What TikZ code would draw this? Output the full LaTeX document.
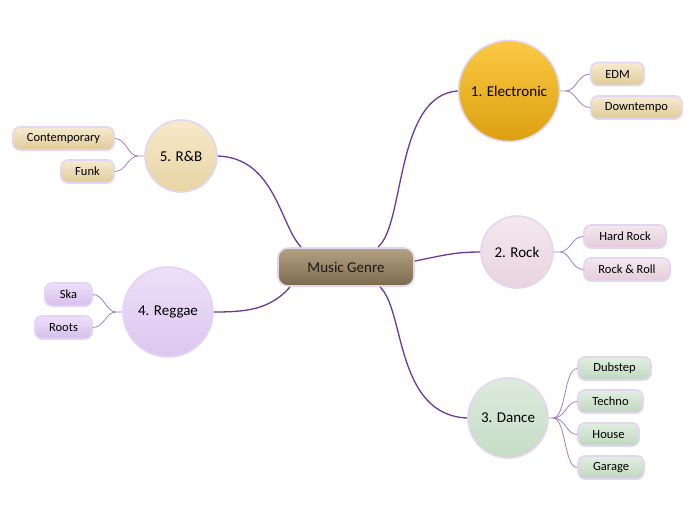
\documentclass[tikz,border=0pt]{standalone}
\usepackage{fontspec}
\setmainfont{Carlito}
\begin{document}
\begin{tikzpicture}[x=1pt,y=-1pt,
  bord/.style={draw=bordc, line width=1.6pt},
  central/.style={bord, rounded corners=10pt, minimum width=136pt, minimum height=38pt, top color=cenT, bottom color=cenB, font=\fontsize{15}{17}\selectfont, text=black!90},
  topic/.style={bord, circle, inner sep=0pt, font=\fontsize{15}{17}\selectfont, text=black},
  leaf/.style={bord, rounded corners=7pt, minimum height=23pt, inner xsep=0pt, font=\fontsize{12.5}{14}\selectfont, text=black},
  mainl/.style={draw=mainc, line width=1.3pt},
  leafl/.style={draw=leafc, line width=0.8pt}
]
\definecolor{bordc}{HTML}{E2D6F2}
\definecolor{cenT}{HTML}{B2A282}
\definecolor{cenB}{HTML}{7C6A4C}
\definecolor{goldT}{HTML}{FBC945}
\definecolor{goldB}{HTML}{DBA00F}
\definecolor{rockT}{HTML}{F5E8EE}
\definecolor{rockB}{HTML}{E8D4DE}
\definecolor{danT}{HTML}{DDEBDD}
\definecolor{danB}{HTML}{C6DCC6}
\definecolor{regT}{HTML}{EEDFFA}
\definecolor{regB}{HTML}{DCC6F0}
\definecolor{rnbT}{HTML}{F7EACB}
\definecolor{rnbB}{HTML}{E8D3A4}
\definecolor{lbeT}{HTML}{F6EBD2}
\definecolor{lbeB}{HTML}{E0CA96}
\definecolor{lroT}{HTML}{F5E8EE}
\definecolor{lroB}{HTML}{E3CCD8}
\definecolor{ldaT}{HTML}{E2EFE2}
\definecolor{ldaB}{HTML}{BFD6BF}
\definecolor{lreT}{HTML}{EEDFFA}
\definecolor{lreB}{HTML}{D6BEEC}
\definecolor{mainc}{HTML}{6B3A96}
\definecolor{leafc}{HTML}{A27EC4}
\useasboundingbox (0,0) rectangle (696,520);
\fill[white] (0,0) rectangle (696,520);

\node[central] (c) at (346,267) {Music Genre};

\node[topic, minimum size=101pt, top color=goldT, bottom color=goldB] (e) at (509,91) {1. Electronic};
\node[topic, minimum size=72pt, top color=rockT, bottom color=rockB] (r) at (517,252) {2. Rock};
\node[topic, minimum size=80pt, top color=danT, bottom color=danB] (d) at (508,418) {3. Dance};
\node[topic, minimum size=90pt, top color=regT, bottom color=regB] (g) at (168,312) {4. Reggae};
\node[topic, minimum size=72pt, top color=rnbT, bottom color=rnbB] (b) at (181,156) {5. R\&B};

\node[leaf, minimum width=53pt, top color=lbeT, bottom color=lbeB] (edm) at (617.5,74) {EDM};
\node[leaf, minimum width=91pt, top color=lbeT, bottom color=lbeB] (dtm) at (636.5,107.5) {Downtempo};
\node[leaf, minimum width=82pt, top color=lroT, bottom color=lroB] (hr) at (625,236.5) {Hard Rock};
\node[leaf, minimum width=86pt, top color=lroT, bottom color=lroB] (rr) at (627,269.5) {Rock \& Roll};
\node[leaf, minimum width=73pt, top color=ldaT, bottom color=ldaB] (dub) at (614.5,368.5) {Dubstep};
\node[leaf, minimum width=65pt, top color=ldaT, bottom color=ldaB] (tec) at (610.5,401.5) {Techno};
\node[leaf, minimum width=61pt, top color=ldaT, bottom color=ldaB] (hou) at (608.5,434.5) {House};
\node[leaf, minimum width=66pt, top color=ldaT, bottom color=ldaB] (gar) at (611,467.5) {Garage};
\node[leaf, minimum width=101pt, top color=lbeT, bottom color=lbeB] (con) at (63.5,138.5) {Contemporary};
\node[leaf, minimum width=53pt, top color=lbeT, bottom color=lbeB] (fun) at (87.5,171.5) {Funk};
\node[leaf, minimum width=47pt, top color=lreT, bottom color=lreB] (ska) at (68.5,294.5) {Ska};
\node[leaf, minimum width=57pt, top color=lreT, bottom color=lreB] (roo) at (63.5,327.5) {Roots};

% main connectors
\draw[mainl] (378,247) .. controls (405,225) and (395,95) .. (e.west);
\draw[mainl] (c.east) ++(0,-6) .. controls (445,255) and (455,252) .. (r.west);
\draw[mainl] (380,287) .. controls (405,310) and (395,415) .. (d.west);
\draw[mainl] (290,287) .. controls (270,310) and (245,312) .. (g.east);
\draw[mainl] (301,247) .. controls (280,225) and (275,158) .. (b.east);

% leaf connectors
\coordinate (fe) at (566,91);
\draw[leafl] (e.east) -- (fe) .. controls (576,91) and (578,74) .. (edm.west);
\draw[leafl] (fe) .. controls (576,91) and (578,107.5) .. (dtm.west);
\coordinate (fr) at (560,252);
\draw[leafl] (r.east) -- (fr) .. controls (570,252) and (572,236.5) .. (hr.west);
\draw[leafl] (fr) .. controls (570,252) and (572,269.5) .. (rr.west);
\coordinate (fd) at (553,418);
\draw[leafl] (d.east) -- (fd) .. controls (566,418) and (564,368.5) .. (dub.west);
\draw[leafl] (fd) .. controls (566,418) and (566,401.5) .. (tec.west);
\draw[leafl] (fd) .. controls (566,418) and (566,434.5) .. (hou.west);
\draw[leafl] (fd) .. controls (566,418) and (564,467.5) .. (gar.west);
\coordinate (fg) at (116,312);
\draw[leafl] (g.west) -- (fg) .. controls (106,312) and (104,294.5) .. (ska.east);
\draw[leafl] (fg) .. controls (106,312) and (104,327.5) .. (roo.east);
\coordinate (fb) at (138,156);
\draw[leafl] (b.west) -- (fb) .. controls (128,156) and (126,138.5) .. (con.east);
\draw[leafl] (fb) .. controls (128,156) and (126,171.5) .. (fun.east);
\end{tikzpicture}
\end{document}
